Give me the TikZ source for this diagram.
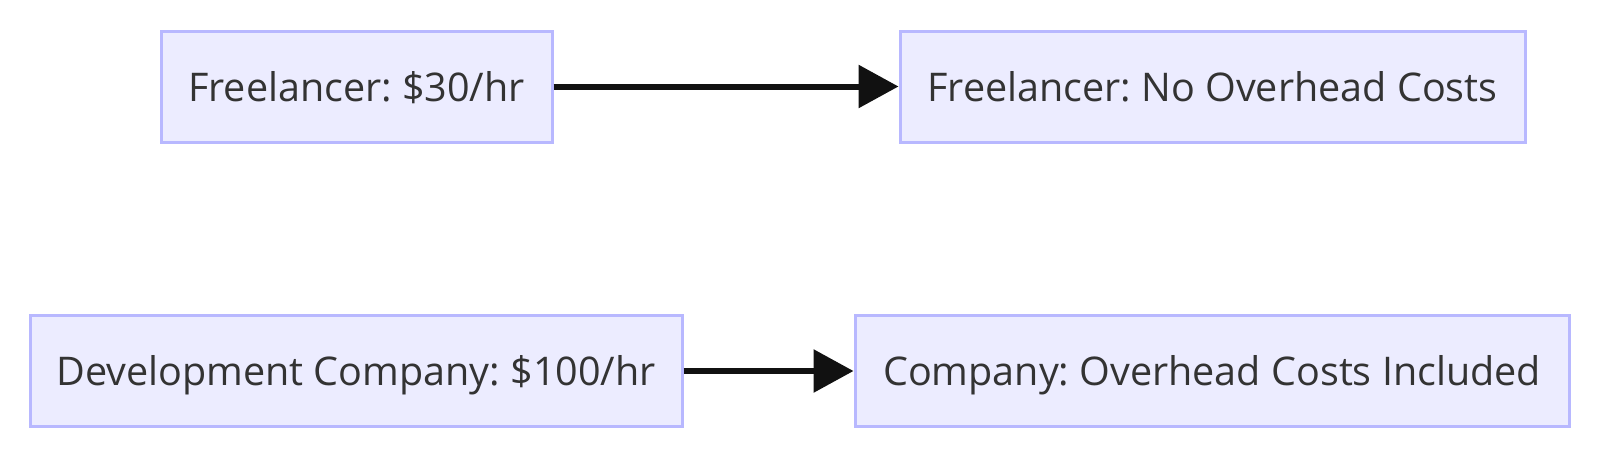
\documentclass[tikz,border=0pt]{standalone}
\usepackage{fontspec}
\setmainfont{Open Sans}
\usetikzlibrary{arrows.meta}
\definecolor{boxfill}{HTML}{ECECFF}
\definecolor{boxline}{HTML}{B8B8FF}
\definecolor{txt}{HTML}{333333}
\definecolor{arr}{HTML}{111111}
\frenchspacing
\begin{document}
\begin{tikzpicture}[x=1pt,y=-1pt,
  box/.style={draw=boxline,fill=boxfill,line width=3pt,inner sep=0pt,
    minimum height=111pt,text=txt,font=\fontsize{39.5}{46}\selectfont,anchor=center,
    text depth=0pt,text height=29pt},
  link/.style={draw=arr,line width=6pt,-{Triangle[length=40pt,width=42pt]}}]
\useasboundingbox (0,0) rectangle (1600,453);
\node[box,minimum width=391pt] (a) at (356.5,86.5) {Freelancer: \$30/hr};
\node[box,minimum width=625pt] (b) at (1212.5,86.5) {Freelancer: No Overhead Costs};
\node[box,minimum width=652pt] (c) at (356,371) {Development Company: \$100/hr};
\node[box,minimum width=714pt] (d) at (1212,371) {Company: Overhead Costs Included};
\draw[link] (a) -- (b);
\draw[link] (c) -- (d);
\end{tikzpicture}
\end{document}
